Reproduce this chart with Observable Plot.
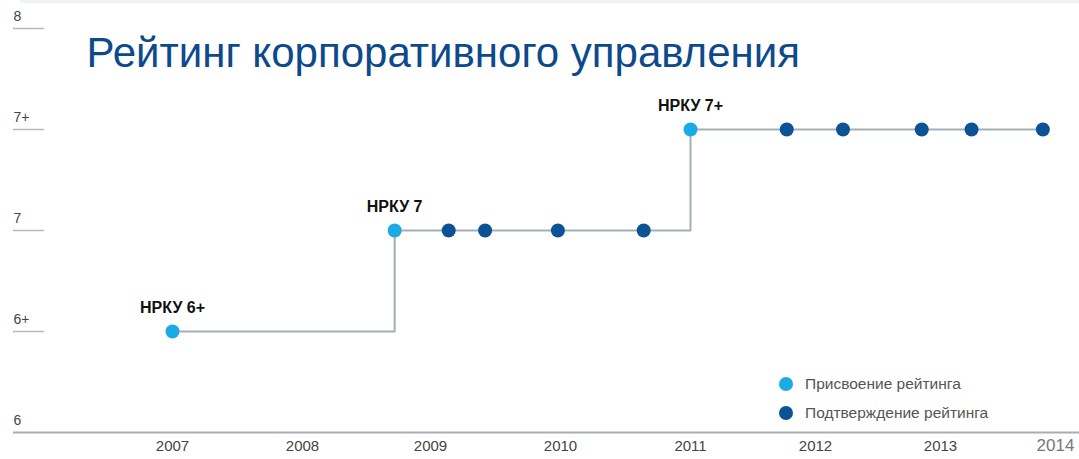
<!DOCTYPE html>
<html>
<head>
<meta charset="utf-8">
<script src="https://cdn.jsdelivr.net/npm/d3@7"></script>
<script src="https://cdn.jsdelivr.net/npm/@observablehq/plot@0.6"></script>
<style>
  body { margin: 0; background: #fff; font-family: "Liberation Sans", Arial, sans-serif; }
  #wrap { position: relative; width: 1079px; height: 459px; }
  #band { position: absolute; left: 20px; top: 0; width: 1059px; height: 3px; background: #eef3f9; }
  #legend { position: absolute; left: 779px; top: 369px; font-size: 15.5px; color: #555; line-height: 29px; }
  #legend .sw { display: inline-block; width: 14px; height: 14px; border-radius: 50%; vertical-align: -2px; margin-right: 12px; }
</style>
</head>
<body>
<div id="wrap"><div id="band"></div></div>
<script>
const title = "Рейтинг корпоративного управления";
const years = [2007, 2008, 2009, 2010, 2011, 2012, 2013, 2014];
const levels = ["6", "6+", "7", "7+", "8"];
const eventDates = [2007.0, 2008.72, 2009.14, 2009.42, 2009.98, 2010.64, 2011.0, 2011.77, 2012.22, 2012.85, 2013.27, 2013.89];
const eventRatings = ["6+", "7", "7", "7", "7", "7", "7+", "7+", "7+", "7+", "7+", "7+"];
const eventTypes = ["assign", "assign", "confirm", "confirm", "confirm", "confirm", "assign", "confirm", "confirm", "confirm", "confirm", "confirm"];
const eventLabels = ["НРКУ 6+", "НРКУ 7", "", "", "", "", "НРКУ 7+", "", "", "", "", ""];
const typeNames = {assign: "Присвоение рейтинга", confirm: "Подтверждение рейтинга"};
const typeColors = {assign: "#1aaae6", confirm: "#0b5394"};

const events = eventDates.map((d, i) => ({date: d, rating: eventRatings[i], type: eventTypes[i], label: eventLabels[i]}));
const W = 1079, H = 459, ML = 13;

const chart = Plot.plot({
  width: W,
  height: H,
  marginLeft: ML,
  marginRight: 0,
  marginTop: 26,
  marginBottom: 26,
  style: {fontFamily: "'Liberation Sans', Arial, sans-serif", background: "transparent"},
  x: {type: "linear", domain: years, range: [172, 302, 430, 560, 690, 815, 940, 1055], axis: null},
  y: {type: "point", domain: levels, range: [433, 26], padding: 0, axis: null},
  marks: [
    // y tick lines (short, left)
    Plot.ruleY(levels.slice(1), {stroke: "#b5b9bd", strokeWidth: 1.5, insetRight: W - ML - 31}),
    // baseline
    Plot.ruleY([levels[0]], {stroke: "#a9aeb2", strokeWidth: 2}),
    // y labels
    Plot.text(levels, {y: d => d, frameAnchor: "left", textAnchor: "start", dy: -12, fill: "#444", fontSize: 14}),
    // x labels
    Plot.text(years, {x: d => d, text: d => String(d), frameAnchor: "bottom", dy: 17, fill: d => d === 2014 ? "#777" : "#444", fontSize: d => d === 2014 ? 17 : 15}),
    // title
    Plot.text([title], {frameAnchor: "top-left", dx: 73, dy: 27, fill: "#0d4a8c", fontSize: 42, textAnchor: "start", lineAnchor: "middle"}),
    // step line
    Plot.line(events, {x: "date", y: "rating", curve: "step-after", stroke: "#a3afb7", strokeWidth: 2}),
    // dots
    Plot.dot(events, {x: "date", y: "rating", r: 7, fill: d => typeColors[d.type], stroke: "none"}),
    // labels
    Plot.text(events.filter(d => d.label), {x: "date", y: "rating", text: "label", dy: -24, fontWeight: "bold", fontSize: 16, fill: "#111"})
  ]
});
const wrap = document.getElementById("wrap");
wrap.appendChild(chart);
const legend = document.createElement("div");
legend.id = "legend";
legend.innerHTML = Object.keys(typeNames).map(k =>
  `<div><span class="sw" style="background:${typeColors[k]}"></span>${typeNames[k]}</div>`).join("");
wrap.appendChild(legend);
</script>
</body>
</html>
